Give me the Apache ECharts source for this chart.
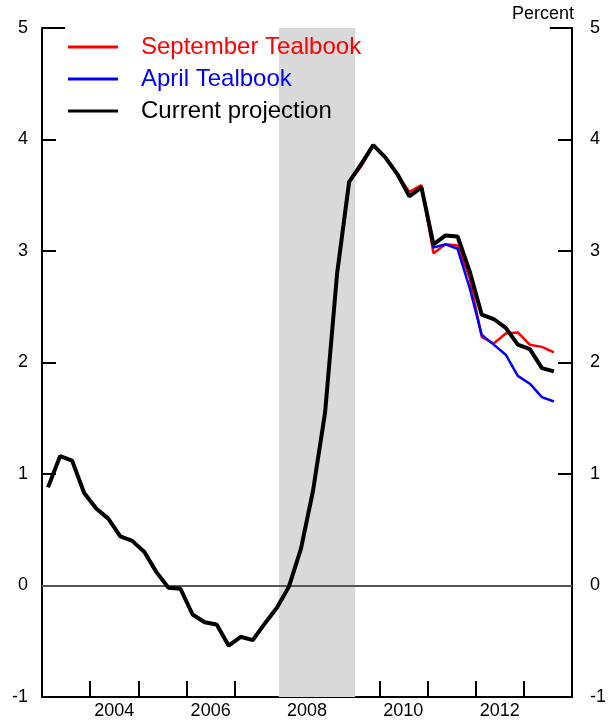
<!DOCTYPE html>
<html>
<head>
<meta charset="utf-8">
<script src="https://cdn.jsdelivr.net/npm/echarts@6/dist/echarts.min.js"></script>
<style>
html,body{margin:0;padding:0;background:#fff;}
#chart{width:611px;height:725px;}
</style>
</head>
<body>
<div id="chart"></div>
<script>
// Quarterly observations, 2003Q1 .. 2013Q3
const quarters = [
  '2003Q1','2003Q2','2003Q3','2003Q4','2004Q1','2004Q2','2004Q3','2004Q4',
  '2005Q1','2005Q2','2005Q3','2005Q4','2006Q1','2006Q2','2006Q3','2006Q4',
  '2007Q1','2007Q2','2007Q3','2007Q4','2008Q1','2008Q2','2008Q3','2008Q4',
  '2009Q1','2009Q2','2009Q3','2009Q4','2010Q1','2010Q2','2010Q3','2010Q4',
  '2011Q1','2011Q2','2011Q3','2011Q4','2012Q1','2012Q2','2012Q3','2012Q4',
  '2013Q1','2013Q2','2013Q3'
];
const currentProjection = [
  0.88, 1.16, 1.12, 0.83, 0.69, 0.60, 0.44, 0.40,
  0.30, 0.12, -0.02, -0.03, -0.26, -0.33, -0.35, -0.54,
  -0.46, -0.49, -0.34, -0.20, -0.01, 0.33, 0.85, 1.55,
  2.80, 3.62, 3.78, 3.95, 3.84, 3.69, 3.49, 3.57,
  3.06, 3.14, 3.13, 2.82, 2.43, 2.39, 2.31, 2.16,
  2.12, 1.95, 1.92
];
const septemberTealbook = [
  null, null, null, null, null, null, null, null,
  null, null, null, null, null, null, null, null,
  null, null, null, null, null, null, null, null,
  2.80, 3.62, 3.76, 3.95, 3.84, 3.69, 3.53, 3.59,
  2.98, 3.06, 3.05, 2.76, 2.23, 2.17, 2.26, 2.27,
  2.16, 2.14, 2.09
];
const aprilTealbook = [
  null, null, null, null, null, null, null, null,
  null, null, null, null, null, null, null, null,
  null, null, null, null, null, null, null, null,
  2.80, 3.62, 3.78, 3.95, 3.84, 3.69, 3.49, 3.57,
  3.03, 3.06, 3.02, 2.67, 2.25, 2.16, 2.07, 1.88,
  1.81, 1.69, 1.65
];
const yearTicks = [2004, 2005, 2006, 2007, 2008, 2009, 2010, 2011, 2012, 2013];
const yearLabels = [2004, 2006, 2008, 2010, 2012];
const recession = [2007.917, 2009.5];

function qToYear(q) {
  const y = parseInt(q.slice(0, 4), 10);
  const n = parseInt(q.slice(5), 10);
  return y + (n - 1) * 0.25 + 0.125;
}
function pairs(vals) {
  return quarters.map((q, i) => [qToYear(q), vals[i]]);
}

const FONT = 'Liberation Sans, Arial, Helvetica, sans-serif';
const chart = echarts.init(document.getElementById('chart'), null, {renderer: 'canvas'});

const yAxisCommon = {
  type: 'value', min: -1, max: 5, interval: 1,
  axisLine: {show: true, onZero: false, lineStyle: {color: '#000', width: 2}},
  axisTick: {show: true, inside: true, length: 14, lineStyle: {color: '#000', width: 2}},
  splitLine: {show: false},
  axisLabel: {fontSize: 18, color: '#000', fontFamily: FONT}
};

chart.setOption({
  animation: false,
  backgroundColor: '#fff',
  grid: {left: 42, right: 39, top: 28, bottom: 28, containLabel: false},
  legend: {
    orient: 'vertical', left: 68, top: 35, padding: 0,
    itemWidth: 50, itemHeight: 3, itemGap: 8, icon: 'rect',
    textStyle: {fontSize: 24, fontFamily: FONT, lineHeight: 24, padding: [0, 0, 0, 18]},
    data: [
      {name: 'September Tealbook', textStyle: {color: '#ff0000'}},
      {name: 'April Tealbook', textStyle: {color: '#0000ff'}},
      {name: 'Current projection', textStyle: {color: '#000'}}
    ]
  },
  xAxis: {
    type: 'value', min: 2003, max: 2014,
    axisLine: {show: true, onZero: false, lineStyle: {color: '#000', width: 2}},
    axisTick: {show: true, inside: true, length: 16, customValues: yearTicks, lineStyle: {color: '#000', width: 2}},
    splitLine: {show: false},
    axisLabel: {
      customValues: yearLabels.map(y => y + 0.5),
      formatter: v => String(Math.floor(v)),
      fontSize: 18, color: '#000', fontFamily: FONT, margin: 5
    }
  },
  yAxis: [
    Object.assign({}, yAxisCommon, {position: 'left', axisLabel: Object.assign({}, yAxisCommon.axisLabel, {margin: 14})}),
    Object.assign({}, yAxisCommon, {
      position: 'right',
      axisLabel: Object.assign({}, yAxisCommon.axisLabel, {margin: 18}),
      name: 'Percent', nameLocation: 'end', nameGap: 5,
      nameTextStyle: {fontSize: 18, color: '#000', fontFamily: FONT, align: 'right', verticalAlign: 'bottom', padding: [0, -2, 0, 0]}
    })
  ],
  series: [
    {
      name: 'shade', type: 'line', data: [], z: 1, silent: true,
      markArea: {
        silent: true,
        itemStyle: {color: '#d9d9d9'},
        data: [[{xAxis: recession[0]}, {xAxis: recession[1]}]]
      },
      markLine: {
        silent: true, symbol: ['none', 'none'], label: {show: false},
        lineStyle: {color: '#555', width: 2, type: 'solid'},
        data: [
          {yAxis: 0},
          [{coord: [2003, 5], lineStyle: {color: '#000', width: 2}}, {coord: [2003.48, 5]}],
          [{coord: [2013.54, 5], lineStyle: {color: '#000', width: 2}}, {coord: [2014, 5]}]
        ]
      }
    },
    {
      name: 'September Tealbook', type: 'line', z: 3, showSymbol: false, connectNulls: false,
      lineStyle: {color: '#ff0000', width: 2.5}, itemStyle: {color: '#ff0000'},
      data: pairs(septemberTealbook)
    },
    {
      name: 'April Tealbook', type: 'line', z: 4, showSymbol: false,
      lineStyle: {color: '#0000ff', width: 2.5}, itemStyle: {color: '#0000ff'},
      data: pairs(aprilTealbook)
    },
    {
      name: 'Current projection', type: 'line', z: 5, showSymbol: false,
      lineStyle: {color: '#000', width: 4}, itemStyle: {color: '#000'},
      data: pairs(currentProjection)
    }
  ]
});
</script>
</body>
</html>
